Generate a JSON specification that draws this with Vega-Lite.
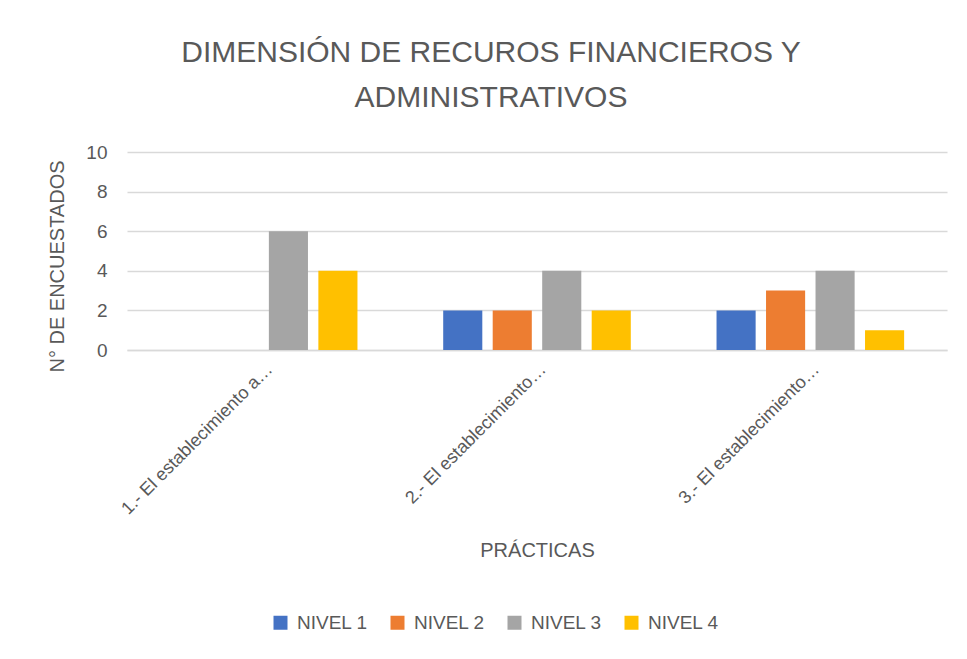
{
  "$schema": "https://vega.github.io/schema/vega-lite/v6.json",
  "autosize": "none",
  "width": 820,
  "height": 198,
  "padding": {"left": 127, "top": 152, "right": 20, "bottom": 309},
  "background": "white",
  "config": {
    "font": "Liberation Sans",
    "view": {"stroke": null}
  },
  "title": {
    "text": ["DIMENSIÓN DE RECUROS FINANCIEROS Y", "ADMINISTRATIVOS"],
    "fontSize": 30,
    "fontWeight": "normal",
    "color": "#595959",
    "anchor": "middle",
    "dx": -46,
    "baseline": "bottom",
    "offset": 0,
    "lineHeight": 45
  },
  "data": {
    "values": [
      {"practica": "1.- El establecimiento a…", "nivel": "NIVEL 1", "n": 0},
      {"practica": "1.- El establecimiento a…", "nivel": "NIVEL 2", "n": 0},
      {"practica": "1.- El establecimiento a…", "nivel": "NIVEL 3", "n": 6},
      {"practica": "1.- El establecimiento a…", "nivel": "NIVEL 4", "n": 4},
      {"practica": "2.- El establecimiento…", "nivel": "NIVEL 1", "n": 2},
      {"practica": "2.- El establecimiento…", "nivel": "NIVEL 2", "n": 2},
      {"practica": "2.- El establecimiento…", "nivel": "NIVEL 3", "n": 4},
      {"practica": "2.- El establecimiento…", "nivel": "NIVEL 4", "n": 2},
      {"practica": "3.- El establecimiento…", "nivel": "NIVEL 1", "n": 2},
      {"practica": "3.- El establecimiento…", "nivel": "NIVEL 2", "n": 3},
      {"practica": "3.- El establecimiento…", "nivel": "NIVEL 3", "n": 4},
      {"practica": "3.- El establecimiento…", "nivel": "NIVEL 4", "n": 1}
    ]
  },
  "mark": {"type": "bar"},
  "encoding": {
    "x": {
      "field": "practica",
      "type": "nominal",
      "sort": null,
      "scale": {"paddingInner": 0, "paddingOuter": 0},
      "axis": {
        "title": "PRÁCTICAS",
        "titleFontSize": 20,
        "titleFontWeight": "normal",
        "titleColor": "#595959",
        "titleY": 200,
        "titleBaseline": "middle",
        "labelAngle": -45,
        "labelFontSize": 18,
        "labelColor": "#595959",
        "labelPadding": 10,
        "labelLimit": 400,
        "ticks": false,
        "domainColor": "#D9D9D9",
        "domainWidth": 1.5,
        "grid": false
      }
    },
    "xOffset": {
      "field": "nivel",
      "type": "nominal",
      "scale": {"paddingInner": 0.21, "paddingOuter": 0.866}
    },
    "y": {
      "field": "n",
      "type": "quantitative",
      "scale": {"domain": [0, 10]},
      "axis": {
        "title": "N° DE ENCUESTADOS",
        "titleFontSize": 20,
        "titleFontWeight": "normal",
        "titleColor": "#595959",
        "titleAngle": -90,
        "titleX": -70,
        "titleY": 114,
        "titleAlign": "center",
        "titleBaseline": "middle",
        "values": [0, 2, 4, 6, 8, 10],
        "labelFontSize": 19,
        "labelColor": "#595959",
        "labelPadding": 20,
        "ticks": false,
        "domain": false,
        "gridColor": "#D9D9D9",
        "gridWidth": 1.5
      }
    },
    "color": {
      "field": "nivel",
      "type": "nominal",
      "scale": {
        "domain": ["NIVEL 1", "NIVEL 2", "NIVEL 3", "NIVEL 4"],
        "range": ["#4472C4", "#ED7D31", "#A5A5A5", "#FFC000"]
      },
      "legend": {
        "title": null,
        "orient": "none",
        "direction": "horizontal",
        "legendX": 144,
        "legendY": 461,
        "symbolType": "square",
        "symbolSize": 196,
        "symbolStrokeWidth": 0,
        "labelFontSize": 19,
        "labelColor": "#595959",
        "labelOffset": 7,
        "columnPadding": 20
      }
    }
  }
}
